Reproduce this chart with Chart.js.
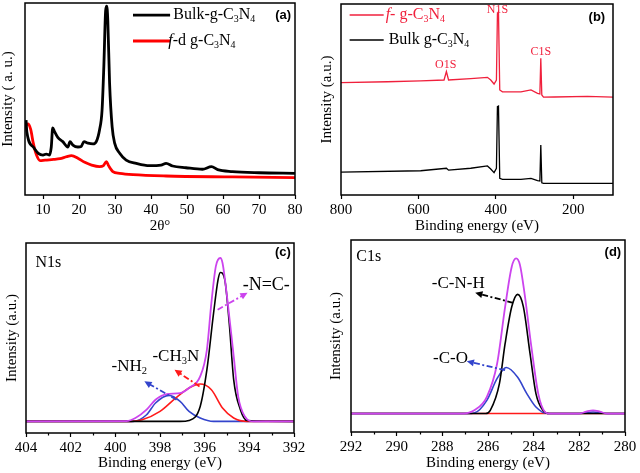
<!DOCTYPE html>
<html>
<head>
<meta charset="utf-8">
<script src="https://cdn.jsdelivr.net/npm/chart.js@4.4.1/dist/chart.umd.min.js"></script>
<style>
  html, body { margin: 0; padding: 0; background: #fff; }
  #wrap { position: relative; width: 640px; height: 473px; overflow: hidden; }
  canvas { position: absolute; }
</style>
</head>
<body>
<div id="wrap">
  <canvas id="chartA" width="320" height="236" style="left:0;top:0"></canvas>
  <canvas id="chartB" width="320" height="236" style="left:320px;top:0"></canvas>
  <canvas id="chartC" width="320" height="237" style="left:0;top:236px"></canvas>
  <canvas id="chartD" width="320" height="237" style="left:320px;top:236px"></canvas>
</div>
<script>
// (a) XRD patterns, 2theta vs intensity (a.u.)
const xrdBulkX = [5.3, 5.5, 7.3, 8.7, 10.0, 10.9, 11.8, 12.3, 12.7, 13.2, 14.1, 15.5, 16.9, 17.5, 18.3, 19.7, 20.6, 21.4, 22.5, 23.9, 24.8, 25.7, 26.4, 26.9, 27.4, 27.7, 28.0, 28.5, 29.2, 29.9, 31.3, 33.1, 35.9, 39.6, 42.8, 44.2, 46.0, 49.7, 54.3, 56.8, 58.5, 62.6, 70.0, 80];
const xrdBulkY = [39, 33, 25, 21.7, 20.8, 21.3, 20.8, 25, 35, 33, 30, 27.8, 25, 27.8, 26, 25, 25.3, 27.8, 27, 26.6, 27.8, 33.9, 44, 67, 96, 98.4, 91, 58, 35.6, 27, 21.7, 18.2, 16.5, 15.3, 15.6, 16.5, 15.1, 14.2, 13.4, 14.8, 13.2, 12.2, 11.6, 11.3];
const xrdFdX = [5.3, 5.9, 6.6, 7.3, 8.2, 9.2, 10.6, 12.9, 14.7, 16.6, 17.9, 19.8, 21.6, 23.5, 25.7, 26.8, 27.6, 28.2, 29.4, 31.3, 35.0, 44.2, 62.7, 80];
const xrdFdY = [36.5, 37, 34, 27, 20.8, 17.9, 18.2, 18.5, 18.9, 20, 20.5, 19, 17, 15.6, 14.8, 15.3, 17.4, 15.3, 12.2, 11.3, 10.6, 9.9, 9.4, 9.0];

// (b) XPS survey, binding energy (eV)
const surveyFX = [800, 680, 594, 533.7, 527.6, 522, 464.7, 421.6, 413, 404.4, 398.3, 395.7, 393, 389.7, 382.7, 335, 309, 292, 286, 283.6, 281, 276.6, 249, 162.8, 97];
const surveyFY = [58.8, 59.3, 59.8, 60.2, 64.6, 60.2, 60.9, 61.6, 60.2, 58.1, 60.2, 95, 96, 55, 54, 54, 55, 53.2, 52.9, 71.6, 52.4, 51.2, 51.3, 51.6, 51.2];
const surveyBulkX = [800, 594, 527.6, 522, 464.7, 421.6, 413, 404.4, 398.3, 395.7, 393, 389.7, 382.7, 335, 309, 292, 286, 283.6, 281, 276.6, 97];
const surveyBulkY = [12, 12.7, 14, 13, 14, 15.2, 13.6, 11.7, 14, 46.2, 46.5, 8.7, 8.2, 8.2, 8.7, 7.5, 7.3, 26.2, 6.4, 6.1, 6.1];

// (c) N1s fit
const n1sSumX = [404, 399.5, 399.1, 398.6, 398.2, 397.7, 397.1, 396.7, 396.2, 395.9, 395.7, 395.5, 395.3, 395.2, 395.0, 394.7, 394.5, 394.2, 393.8, 392];
const n1sSumY = [6.1, 6.3, 7.9, 12.3, 17.5, 20.5, 21, 23.7, 29.8, 43.8, 68.4, 87.7, 92.1, 89.5, 71.9, 40.3, 19.3, 8.7, 6.1, 6.1];
const n1sNcX = [404, 397.1, 396.7, 396.2, 395.9, 395.6, 395.4, 395.3, 395.1, 394.9, 394.7, 394.4, 394.1, 392];
const n1sNcY = [6.1, 6.1, 6.6, 14, 33.3, 63.2, 80.7, 84.5, 80.7, 57.9, 28, 12.3, 6.6, 6.1];
const n1sCh3nX = [404, 399.5, 398.8, 398.0, 397.3, 396.7, 396.2, 395.7, 395.2, 394.7, 394.1, 392];
const n1sCh3nY = [6.1, 6.1, 7, 11.4, 18.4, 23.7, 25.8, 22.8, 13.2, 7.9, 6.1, 6.1];
const n1sNh2X = [404, 399.2, 398.6, 398.2, 397.6, 397.1, 396.7, 396.2, 395.6, 392];
const n1sNh2Y = [6.1, 6.1, 9.6, 15.8, 19.8, 16.7, 11.4, 7.9, 6.1, 6.1];

// (d) C1s fit
const c1sSumX = [292, 287.1, 286.6, 286.05, 285.6, 285.25, 284.96, 284.77, 284.6, 284.4, 284.1, 283.8, 283.5, 283.3, 282.0, 281.7, 281.4, 281.1, 280.8, 280];
const c1sSumY = [9.6, 9.6, 11.3, 18.3, 35.7, 65.2, 86.1, 90.4, 87, 72.2, 44.3, 20, 10.4, 9.6, 9.6, 10.6, 11.3, 10.6, 9.6, 9.6];
const c1sCnhX = [292, 286.1, 285.9, 285.5, 285.25, 284.96, 284.7, 284.45, 284.16, 283.9, 283.6, 283.3, 280];
const c1sCnhY = [9.6, 9.6, 11.3, 25.2, 46.1, 65.2, 71.7, 65.2, 40.9, 20, 11.3, 9.6, 9.6];
const c1sCoX = [292, 286.9, 286.6, 286.05, 285.6, 285.2, 284.7, 284.3, 283.9, 283.4, 282.0, 281.4, 280.8, 280];
const c1sCoY = [9.6, 9.6, 9.9, 16.5, 27.9, 33.6, 28.5, 20, 13, 9.6, 9.6, 10.4, 9.6, 9.6];
const c1sBaseX = [292, 280];
const c1sBaseY = [9.6, 9.6];

const SERIF = '"Liberation Serif", "Times New Roman", serif';
const SANS = '"Liberation Sans", Arial, sans-serif';
const MAGENTA = "#cc44ee";
const BLUE = "#3344cc";

const pts = (xs, ys) => xs.map((x, i) => ({ x: x, y: ys[i] }));

// text with "_3" for subscripts and "~f" for italics
const drawRich = (ctx, str, x, y, size, color, align) => {
    const parts = [];
    for (let i = 0; i < str.length; i++) {
        const c = str[i];
        if (c === "_") { parts.push({ t: str[i + 1], sub: true }); i++; }
        else if (c === "~") { parts.push({ t: str[i + 1], it: true }); i++; }
        else parts.push({ t: c });
    }
    const fontFor = (p) => (p.it ? "italic " : "") + (p.sub ? size * 0.62 : size) + "px " + SERIF;
    let w = 0;
    parts.forEach((p) => { ctx.font = fontFor(p); w += ctx.measureText(p.t).width; });
    let cx = align === "center" ? x - w / 2 : x;
    ctx.fillStyle = color;
    ctx.textAlign = "left";
    ctx.textBaseline = "middle";
    parts.forEach((p) => {
        ctx.font = fontFor(p);
        ctx.fillText(p.t, cx, p.sub ? y + size * 0.28 : y);
        cx += ctx.measureText(p.t).width;
    });
};

const notesPlugin = {
    id: "notes",
    afterDatasetsDraw(chart, args, opts) {
        const ctx = chart.ctx;
        const xs = chart.scales.x, ys = chart.scales.y;
        const X = (v) => xs.getPixelForValue(v), Y = (v) => ys.getPixelForValue(v);
        ctx.save();
        (opts.lines || []).forEach((l) => {
            ctx.strokeStyle = l.color;
            ctx.lineWidth = l.width || 2;
            ctx.beginPath();
            ctx.moveTo(X(l.x1), Y(l.y));
            ctx.lineTo(X(l.x2), Y(l.y));
            ctx.stroke();
        });
        (opts.arrows || []).forEach((a) => {
            const x1 = X(a.from[0]), y1 = Y(a.from[1]), x2 = X(a.to[0]), y2 = Y(a.to[1]);
            const ang = Math.atan2(y2 - y1, x2 - x1);
            const hl = 8;
            ctx.strokeStyle = a.color;
            ctx.fillStyle = a.color;
            ctx.lineWidth = 1.8;
            ctx.setLineDash([6, 2.5, 2, 2.5]);
            ctx.beginPath();
            ctx.moveTo(x1, y1);
            ctx.lineTo(x2 - Math.cos(ang) * hl * 0.8, y2 - Math.sin(ang) * hl * 0.8);
            ctx.stroke();
            ctx.setLineDash([]);
            ctx.beginPath();
            ctx.moveTo(x2, y2);
            ctx.lineTo(x2 - hl * Math.cos(ang - 0.45), y2 - hl * Math.sin(ang - 0.45));
            ctx.lineTo(x2 - hl * Math.cos(ang + 0.45), y2 - hl * Math.sin(ang + 0.45));
            ctx.closePath();
            ctx.fill();
        });
        (opts.texts || []).forEach((t) => {
            if (t.bold) {
                ctx.font = "bold " + t.size + "px " + SANS;
                ctx.fillStyle = t.color;
                ctx.textAlign = "center";
                ctx.textBaseline = "middle";
                ctx.fillText(t.text, X(t.x), Y(t.y));
            } else {
                drawRich(ctx, t.text, X(t.x), Y(t.y), t.size, t.color, t.align);
            }
        });
        ctx.restore();
    },
    afterDraw(chart, args, opts) {
        const a = chart.chartArea, ctx = chart.ctx;
        ctx.save();
        // short minor ticks between the labelled ones
        if (opts.minor) {
            const xs = chart.scales.x;
            ctx.strokeStyle = "#000";
            ctx.lineWidth = 1.2;
            xs.ticks.forEach((t) => {
                if (t.value % opts.minor === 0) return;
                const px = Math.round(xs.getPixelForValue(t.value)) + 0.5;
                ctx.beginPath();
                ctx.moveTo(px, a.bottom);
                ctx.lineTo(px, a.bottom + 2.5);
                ctx.stroke();
            });
        }
        ctx.strokeStyle = "#000";
        ctx.lineWidth = 1.5;
        ctx.strokeRect(a.left, a.top, a.right - a.left, a.bottom - a.top);
        ctx.restore();
    },
};
Chart.register(notesPlugin);

const line = (data, color, width, smooth) => ({
    data: data,
    borderColor: color,
    borderWidth: width,
    pointRadius: 0,
    fill: false,
    cubicInterpolationMode: smooth ? "monotone" : "default",
    tension: 0,
});

const makeOptions = (cfg) => ({
    responsive: false,
    animation: false,
    layout: { padding: cfg.pad },
    plugins: { legend: { display: false }, tooltip: { enabled: false }, notes: cfg.notes },
    scales: {
        x: {
            type: "linear",
            min: cfg.min,
            max: cfg.max,
            reverse: cfg.reverse,
            afterFit: (s) => { s.height = cfg.xh; },
            border: { display: false },
            grid: {
                drawOnChartArea: false,
                tickLength: 4,
                tickWidth: 1.2,
                tickColor: (c) => (c.tick && c.tick.value % cfg.major === 0 ? "#000" : "rgba(0,0,0,0)"),
            },
            ticks: {
                stepSize: cfg.step,
                autoSkip: false,
                maxRotation: 0,
                padding: 2,
                color: "#000",
                font: { family: SERIF, size: 15 },
                callback: (v) => (v % cfg.major === 0 ? v : ""),
            },
            title: {
                display: true,
                text: cfg.xTitle,
                color: "#000",
                font: { family: SERIF, size: 15, lineHeight: 1 },
                padding: { top: 0, bottom: cfg.xtPad },
            },
        },
        y: {
            min: 0,
            max: 100,
            afterFit: (s) => { s.width = cfg.yw; },
            border: { display: false },
            grid: { display: false },
            ticks: { display: false },
            title: {
                display: true,
                text: cfg.yTitle,
                color: "#000",
                font: { family: SERIF, size: 15, lineHeight: 1 },
                padding: { top: cfg.ytPad, bottom: 0 },
            },
        },
    },
});

// (a)
new Chart(document.getElementById("chartA"), {
    type: "line",
    data: {
        datasets: [
            line(pts(xrdBulkX, xrdBulkY), "#000", 2.8, true),
            line(pts(xrdFdX, xrdFdY), "#ff0000", 2.8, true),
        ],
    },
    options: makeOptions({
        pad: { top: 3, right: 25, left: 0, bottom: 0 },
        min: 5, max: 80, reverse: false, step: 10, major: 10, xh: 41, yw: 25, xtPad: 2.5, ytPad: 0.5,
        xTitle: "2θ°",
        yTitle: "Intensity ( a. u.)",
        notes: {
            lines: [
                { x1: 35, x2: 45.3, y: 93.7, color: "#000", width: 2.8 },
                { x1: 35, x2: 45.3, y: 80.2, color: "#ff0000", width: 2.8 },
            ],
            texts: [
                { text: "Bulk-g-C_3N_4", x: 46.2, y: 93.7, size: 16, color: "#000" },
                { text: "~f-d g-C_3N_4", x: 44.8, y: 80.2, size: 16, color: "#000" },
                { text: "(a)", x: 76.7, y: 93.7, size: 13, color: "#000", bold: true },
            ],
        },
    }),
});

// (b)
new Chart(document.getElementById("chartB"), {
    type: "line",
    data: {
        datasets: [
            line(pts(surveyFX, surveyFY), "#f0203c", 1.3, false),
            line(pts(surveyBulkX, surveyBulkY), "#000", 1.3, false),
        ],
    },
    options: makeOptions({
        pad: { top: 4, right: 27, left: 0, bottom: 0 },
        min: 97, max: 800, reverse: true, step: 200, major: 200, xh: 41, yw: 21, xtPad: 2.5, ytPad: 0,
        xTitle: "Binding energy (eV)",
        yTitle: "Intensity (a.u.)",
        notes: {
            lines: [
                { x1: 777.7, x2: 689.7, y: 94.2, color: "#f0203c", width: 1.5 },
                { x1: 777.7, x2: 689.7, y: 81.2, color: "#000", width: 1.5 },
            ],
            texts: [
                { text: "~f- g-C_3N_4", x: 684.6, y: 94.2, size: 16, color: "#f0203c" },
                { text: "Bulk g-C_3N_4", x: 676.8, y: 81.2, size: 16, color: "#000" },
                { text: "N1S", x: 395.6, y: 96.9, size: 12, color: "#f0203c", align: "center" },
                { text: "O1S", x: 529.4, y: 68.1, size: 12, color: "#f0203c", align: "center" },
                { text: "C1S", x: 283.6, y: 74.9, size: 12, color: "#f0203c", align: "center" },
                { text: "(b)", x: 138.7, y: 93.2, size: 13, color: "#000", bold: true },
            ],
        },
    }),
});

// (c)
new Chart(document.getElementById("chartC"), {
    type: "line",
    data: {
        datasets: [
            line(pts(n1sSumX, n1sSumY), MAGENTA, 1.8, true),
            line(pts(n1sNcX, n1sNcY), "#000", 1.6, true),
            line(pts(n1sCh3nX, n1sCh3nY), "#ff1a1a", 1.6, true),
            line(pts(n1sNh2X, n1sNh2Y), BLUE, 1.6, true),
        ],
    },
    options: makeOptions({
        pad: { top: 7, right: 26, left: 0, bottom: 0 },
        min: 392, max: 404, reverse: true, step: 1, major: 2, xh: 40, yw: 26, xtPad: 2.5, ytPad: 4.5,
        xTitle: "Binding energy (eV)",
        yTitle: "Intensity (a.u.)",
        notes: {
            minor: 2,
            arrows: [
                { from: [395.42, 64.9], to: [394.08, 73.8], color: MAGENTA },
                { from: [396.23, 24.5], to: [397.35, 33.3], color: "#ff1a1a" },
                { from: [397.26, 17.5], to: [398.7, 27.2], color: BLUE },
            ],
            texts: [
                { text: "N1s", x: 403.58, y: 89.5, size: 16, color: "#000" },
                { text: "(c)", x: 392.5, y: 94.9, size: 13, color: "#000", bold: true },
                { text: "-N=C-", x: 394.3, y: 78, size: 18, color: "#000" },
                { text: "-CH_3N", x: 398.34, y: 40.3, size: 17, color: "#000" },
                { text: "-NH_2", x: 400.17, y: 35, size: 17, color: "#000" },
            ],
        },
    }),
});

// (d)
new Chart(document.getElementById("chartD"), {
    type: "line",
    data: {
        datasets: [
            line(pts(c1sSumX, c1sSumY), MAGENTA, 1.8, true),
            line(pts(c1sCnhX, c1sCnhY), "#000", 1.6, true),
            line(pts(c1sCoX, c1sCoY), BLUE, 1.6, true),
            line(pts(c1sBaseX, c1sBaseY), "#ff1a1a", 1.6, false),
        ],
    },
    options: makeOptions({
        pad: { top: 4, right: 15, left: 0, bottom: 0 },
        min: 280, max: 292, reverse: true, step: 1, major: 2, xh: 41, yw: 31, xtPad: 2.5, ytPad: 9,
        xTitle: "Binding energy (eV)",
        yTitle: "Intensity (a.u.)",
        notes: {
            minor: 2,
            arrows: [
                { from: [284.9, 67.3], to: [286.56, 72.5], color: "#000" },
                { from: [285.25, 32.2], to: [286.93, 36.9], color: BLUE },
            ],
            texts: [
                { text: "C1s", x: 291.77, y: 91.3, size: 16, color: "#000" },
                { text: "(d)", x: 280.53, y: 93.4, size: 13, color: "#000", bold: true },
                { text: "-C-N-H", x: 288.46, y: 77.4, size: 17, color: "#000" },
                { text: "-C-O", x: 288.41, y: 38.3, size: 17, color: "#000" },
            ],
        },
    }),
});
</script>
</body>
</html>
